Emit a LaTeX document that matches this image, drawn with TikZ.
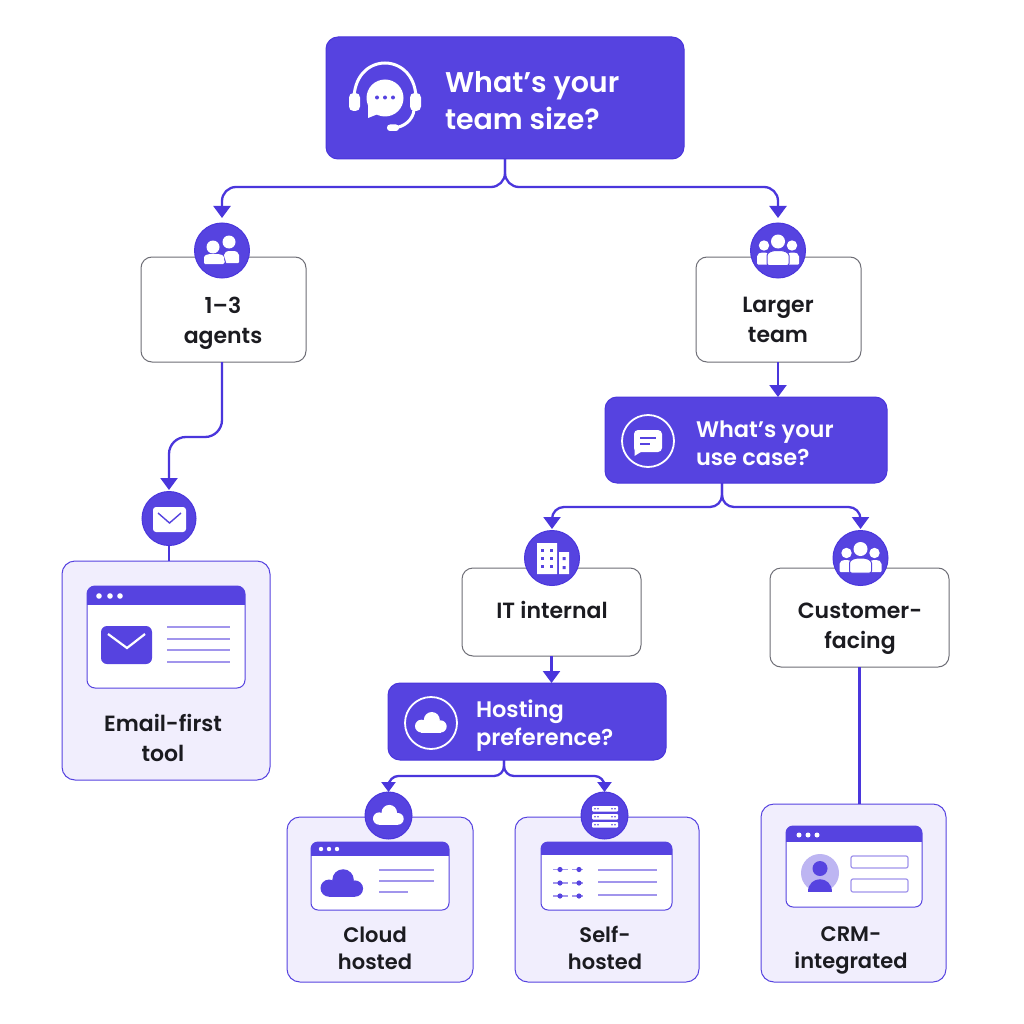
\documentclass[tikz,border=0pt]{standalone}
\usepackage{fontspec}
\setmainfont{Poppins SemiBold}
\usetikzlibrary{arrows.meta}
\definecolor{vio}{HTML}{5643E0}
\definecolor{viod}{HTML}{4A36DC}
\definecolor{lil}{HTML}{F1EEFD}
\definecolor{lin}{HTML}{A195EC}
\definecolor{ink}{HTML}{1B1B20}
\definecolor{gry}{HTML}{6E6E76}
\newcommand{\cloudshape}[4]{% cx cy halfwidth colour
  \begin{scope}[shift={(#1,#2)},x=#3pt,y=-#3pt]
    \fill[#4] (0.05,-0.28) circle[radius=0.5*#3pt];
    \fill[#4] (-0.6,0.1) circle[radius=0.4*#3pt];
    \fill[#4] (0.6,0.12) circle[radius=0.38*#3pt];
    \fill[#4] (-0.6,-0.1) rectangle (0.6,0.5);
  \end{scope}}
\newcommand{\winshape}[6]{% x1 y1 x2 y2 headerbottom radius
  \fill[white] [rounded corners=#6pt] (#1,#2) rectangle (#3,#4);
  \begin{scope}
    \clip[rounded corners=#6pt] (#1,#2) rectangle (#3,#4);
    \fill[vio] (#1,#2) rectangle (#3,#5);
  \end{scope}
  \draw[vio,line width=1pt,rounded corners=#6pt] (#1,#2) rectangle (#3,#4);}
\newcommand{\bodyshape}[4]{% x1 x2 top bottom
  \fill[white,rounded corners=1pt] (#1,#4) -- (#1,#3+5) .. controls (#1,#3+1) and (#1+3,#3) .. (#1/2+#2/2,#3)
     .. controls (#2-3,#3) and (#2,#3+1) .. (#2,#3+5) -- (#2,#4) -- cycle;}
\newcommand{\sliderrow}[2]{% x y
  \draw[lin,line width=1.2pt] (#1,#2) -- (#1+15,#2) (#1+19,#2) -- (#1+30,#2);
  \fill[vio] (#1+7,#2) circle[radius=2.6pt] (#1+26,#2) circle[radius=2.6pt];}
\newcommand{\serverbar}[1]{%
  \fill[white,rounded corners=1pt] (592,#1) rectangle (618,#1+5.5);
  \fill[vio] (595,#1+2.7) circle[radius=.9pt] (598,#1+2.7) circle[radius=.9pt] (612,#1+2.7) circle[radius=.9pt] (615,#1+2.7) circle[radius=.9pt];}
\tikzset{
  every node/.style={inner sep=0pt,outer sep=0pt},
  decision/.style={fill=vio,draw=viod,line width=1pt,rounded corners=12pt},
  answer/.style={fill=white,draw=gry,line width=1pt,rounded corners=11pt},
  result/.style={fill=lil,draw=vio,line width=1pt,rounded corners=13pt},
  badge/.style={circle,fill=vio,draw=viod,line width=1pt},
  ring/.style={circle,draw=white,line width=1.8pt},
  conn/.style={draw=viod,line width=2.3pt,rounded corners=14pt},
  arrowed/.style={conn,-{Triangle[width=17pt,length=12pt]},shorten >=5pt},
  qbig/.style={text=white,align=left,anchor=west,font=\fontsize{28.5}{37}\selectfont},
  qmid/.style={text=white,align=left,anchor=west,font=\fontsize{22.5}{28}\selectfont},
  lab/.style={text=ink,align=center,font=\fontsize{22}{30}\selectfont},
  labs/.style={text=ink,align=center,font=\fontsize{21}{27}\selectfont},
  rule/.style={lin,line width=1.4pt},
}
\begin{document}
\begin{tikzpicture}[x=1pt,y=-1pt]
\useasboundingbox (0,0) rectangle (1024,1024);
\fill[white] (0,0) rectangle (1024,1024);

% boxes
\node[decision,minimum width=358pt,minimum height=122pt] (top) at (505,98) {};
\node[answer,minimum width=165pt,minimum height=105pt] (few) at (223.5,309.5) {};
\node[answer,minimum width=165pt,minimum height=105pt] (large) at (778.5,309.5) {};
\node[decision,minimum width=282pt,minimum height=86pt] (use) at (746,440) {};
\node[answer,minimum width=179pt,minimum height=88pt] (it) at (551.5,612) {};
\node[answer,minimum width=179pt,minimum height=99pt] (cust) at (859.5,617.5) {};
\node[decision,minimum width=278pt,minimum height=77pt] (host) at (527,721.5) {};
\node[result,minimum width=208pt,minimum height=219pt] (email) at (166,670.5) {};
\node[result,minimum width=186pt,minimum height=165pt] (cloud) at (380,899.5) {};
\node[result,minimum width=184pt,minimum height=165pt] (self) at (607,899.5) {};
\node[result,minimum width=185pt,minimum height=178pt] (crm) at (853.5,893) {};

% badges
\node[badge,minimum size=55pt] (bfew) at (222,250.5) {};
\node[badge,minimum size=55pt] (blarge) at (778,250.5) {};
\node[badge,minimum size=54pt] (bmail) at (169,518.5) {};
\node[badge,minimum size=55pt] (bit) at (552,558) {};
\node[badge,minimum size=55pt] (bcust) at (860.5,558) {};
\node[badge,minimum size=47pt] (bcloud) at (388.5,815.5) {};
\node[badge,minimum size=47pt] (bself) at (604.5,815.5) {};
\node[ring,minimum size=52pt] (ruse) at (648,441) {};
\node[ring,minimum size=52pt] (rhost) at (431,723) {};

% bus levels
\coordinate (bus1) at (0,187);
\coordinate (bus2) at (0,437);
\coordinate (bus3) at (0,507);
\coordinate (bus4) at (0,776);

% connectors
\draw[arrowed] (top.south) -- (top.south|-bus1) -- (bfew.north|-bus1) -- (bfew.north);
\draw[arrowed] (top.south) -- (top.south|-bus1) -- (blarge.north|-bus1) -- (blarge.north);
\draw[arrowed,rounded corners=17pt,shorten >=1.5pt] (few.south-|bfew) -- (bfew|-bus2) -- (bmail.north|-bus2) -- (bmail.north);
\draw[conn] (bmail.south) -- (bmail.south|-email.north);
\draw[arrowed,shorten >=0pt] (large.south-|blarge) -- (blarge|-use.north);
\draw[arrowed,rounded corners=12pt,shorten >=1.5pt] ([xshift=-24pt]use.south) -- ([xshift=-24pt]use.south|-bus3) -- (bit.north|-bus3) -- (bit.north);
\draw[arrowed,rounded corners=12pt,shorten >=1.5pt] ([xshift=-24pt]use.south) -- ([xshift=-24pt]use.south|-bus3) -- (bcust.north|-bus3) -- (bcust.north);
\draw[arrowed,shorten >=0pt] (it.south) -- (it.south|-host.north);
\draw[arrowed,rounded corners=10pt,-{Triangle[width=14pt,length=10pt]},shorten >=0pt] ([xshift=-23pt]host.south) -- ([xshift=-23pt]host.south|-bus4) -- (bcloud.north|-bus4) -- (bcloud.north);
\draw[arrowed,rounded corners=10pt,-{Triangle[width=14pt,length=10pt]},shorten >=0pt] ([xshift=-23pt]host.south) -- ([xshift=-23pt]host.south|-bus4) -- (bself.north|-bus4) -- (bself.north);
\draw[conn] (cust.south) -- (cust.south|-crm.north);

% texts
\node[qbig] (ttop) at (445,101) {What’s your\\team size?};
\node[qmid] (tuse) at (696,443) {What’s your\\use case?};
\node[qmid] (thost) at (476,726) {Hosting\\preference?};
\node[lab] (tfew) at (223,323) {1–3\\agents};
\node[lab] (tlarge) at (778,320) {Larger\\team};
\node[lab] (tit) at (552,610) {IT internal};
\node[lab] (tcust) at (860,629) {Customer-\\facing};
\node[lab] (temail) at (163,738) {Email-first\\tool};
\node[labs] (tcloud) at (375,948) {Cloud\\hosted};
\node[labs] (tself) at (605,948) {Self-\\hosted};
\node[labs] (tcrm) at (851,950) {CRM-\\integrated};

% headset icon
\draw[white,line width=3pt] (354,102) .. controls (352,50) and (418,50) .. (416,102);
\fill[white,rounded corners=4.5pt] (349,93) rectangle (360,111);
\fill[white,rounded corners=4.5pt] (410,93) rectangle (421,111);
\draw[white,line width=3pt] (414,110) .. controls (413,120) and (404,127) .. (394,128);
\fill[white,rounded corners=3pt] (387,124.5) rectangle (399,131);
\fill[white] (385,98) circle[radius=18.5pt];
\fill[white] (368,104) -- (368,118) -- (383,112) -- cycle;
\fill[vio] (377,97.5) circle[radius=2pt] (385,97.5) circle[radius=2pt] (393,97.5) circle[radius=2pt];

% two people
\fill[white] (213,247) circle[radius=6.5pt] (229,242) circle[radius=6.5pt];
\bodyshape{224}{239}{251}{263}
\draw[vio,line width=1pt] (223.5,256) -- (226,264);
\bodyshape{204}{224}{254}{264}

% three people (twice)
\foreach \cx/\cy in {778/250.5,860.5/558}{
  \begin{scope}[shift={(\cx,\cy)}]
    \fill[white] (-14,-5) circle[radius=5.2pt] (14,-5) circle[radius=5.2pt];
    \bodyshape{-21}{-8}{2}{14}
    \bodyshape{8}{21}{2}{14}
    \fill[white] (0,-9) circle[radius=7pt];
    \fill[white,draw=vio,line width=1pt,rounded corners=2pt] (-11,15) -- (-11,7) .. controls (-11,2) and (-6,0) .. (0,0) .. controls (6,0) and (11,2) .. (11,7) -- (11,15) -- cycle;
  \end{scope}}

% small envelope
\fill[white,rounded corners=3pt] (153,507) rectangle (186,532);
\draw[vio,line width=1.4pt] (158,513) -- (169.5,523) -- (181,513);

% use-case bubble
\fill[white,rounded corners=4pt] (634,430) rectangle (662,452);
\fill[white] (634.5,446) -- (634.5,456) -- (644,450) -- cycle;
\draw[vio,line width=1.6pt] (640,438) -- (656,438) (640,444) -- (650,444);

% building
\fill[white] (537,543) rectangle (557,574) (559,552) rectangle (569,574);
\foreach \wx in {542,551}\foreach \wy in {550,558,566}{\fill[vio] (\wx-1.5,\wy-1.5) rectangle (\wx+1.5,\wy+1.5);}
\fill[vio] (562.5,557) rectangle (565.5,560) (562.5,566) rectangle (565.5,569);

% cloud icons
\cloudshape{431}{724.5}{16}{white}
\cloudshape{388.5}{817}{15.5}{white}

% server
\serverbar{806}\serverbar{814}\serverbar{822}

% email window
\winshape{87}{586}{245}{688}{605}{8}
\fill[white] (99,596) circle[radius=2.8pt] (110,596) circle[radius=2.8pt] (120,596) circle[radius=2.8pt];
\fill[vio,rounded corners=6pt] (101,626) rectangle (152,664);
\draw[white,line width=2.2pt] (108,634) -- (127,648) -- (145,634);
\foreach \ly in {627,639,650,662}{\draw[rule] (167,\ly) -- (230,\ly);}

% cloud window
\winshape{311}{842}{449}{910}{856}{7}
\fill[white] (321,849) circle[radius=2.2pt] (329,849) circle[radius=2.2pt] (337,849) circle[radius=2.2pt];
\cloudshape{342}{886}{21.5}{vio}
\draw[rule] (379,870) -- (434,870) (379,881) -- (434,881) (379,892) -- (408,892);

% self-hosted window
\winshape{541}{842}{672}{910}{855}{7}
\sliderrow{553}{869.5}\sliderrow{553}{883}\sliderrow{553}{896}
\draw[rule] (598,870) -- (657,870) (598,882) -- (657,882) (598,895) -- (657,895);

% CRM window
\winshape{786}{826}{922}{907}{842}{7}
\fill[white] (799,835) circle[radius=2.5pt] (808,835) circle[radius=2.5pt] (817,835) circle[radius=2.5pt];
\fill[lin!70] (820,873) circle[radius=19pt];
\fill[vio] (820,868.5) circle[radius=7.5pt];
\fill[vio] (808,891.5) .. controls (808,875) and (832,875) .. (832,891.5) -- cycle;
\draw[lin,line width=1.2pt,rounded corners=2pt] (851,856) rectangle (908,868) (851,879) rectangle (908,892);
\end{tikzpicture}
\end{document}
